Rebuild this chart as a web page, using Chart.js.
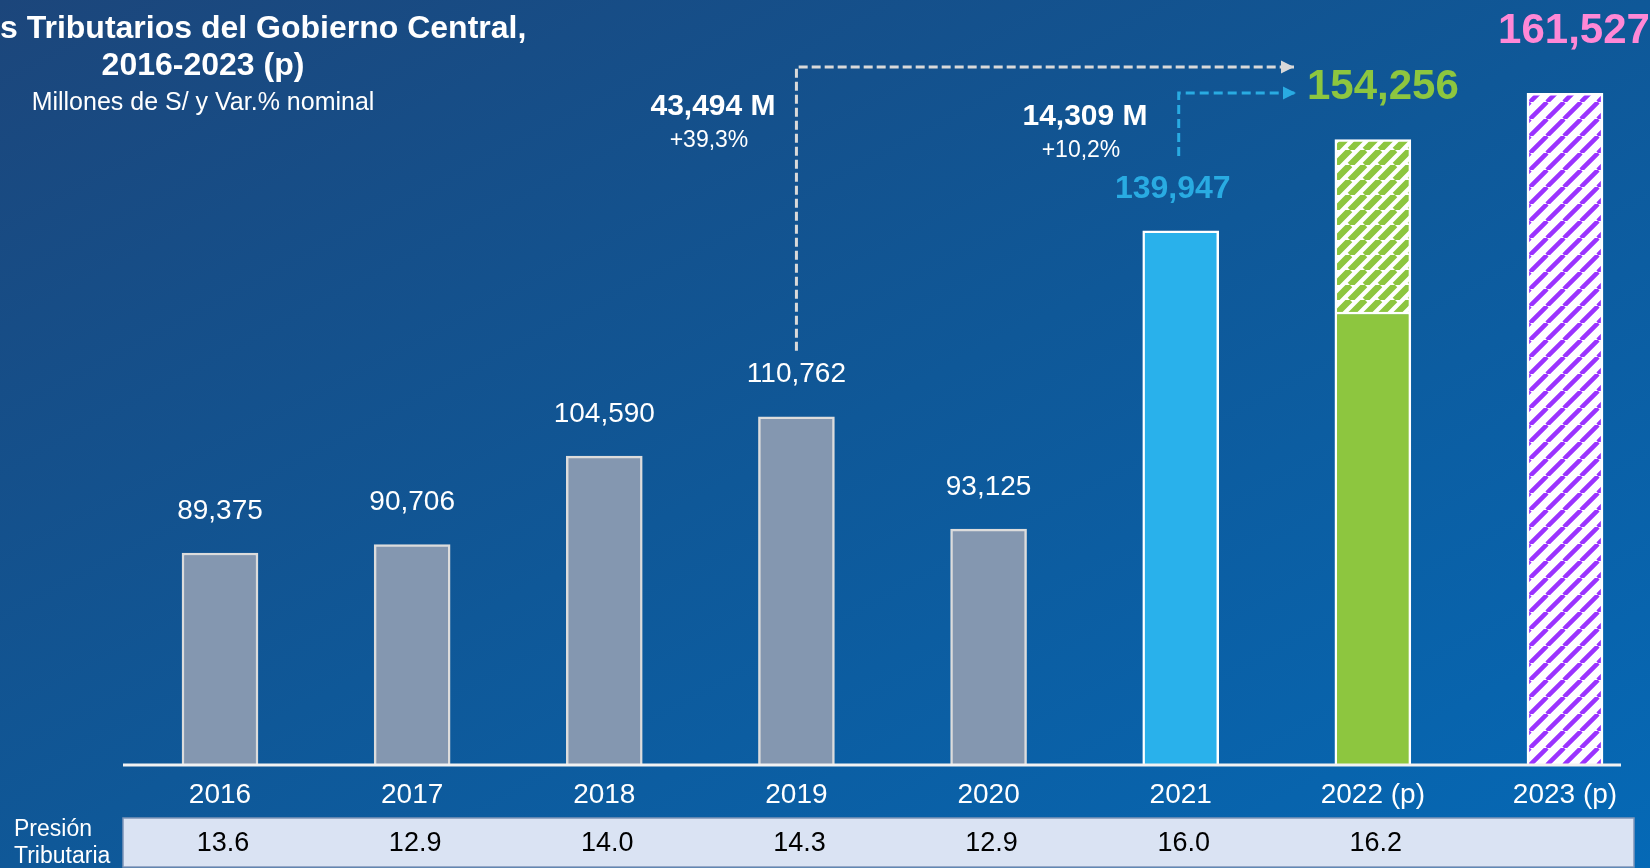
<!DOCTYPE html>
<html><head><meta charset="utf-8">
<script src="https://cdn.jsdelivr.net/npm/chart.js@4.4.0/dist/chart.umd.min.js"></script>
<style>
html,body{margin:0;padding:0;width:1650px;height:868px;overflow:hidden;}
body{background:linear-gradient(to bottom right,#1C467B 0%,#0F5898 50%,#0569B6 100%);}
canvas{display:block;}
</style></head><body>
<canvas id="c" width="1650" height="868"></canvas>
<script>
// ---- data ----
const years = ['2016','2017','2018','2019','2020','2021','2022 (p)','2023 (p)'];
const ingresos = [89375, 90706, 104590, 110762, 93125, 139947, 154256, 161527];
const presionTributaria = [13.6, 12.9, 14.0, 14.3, 12.9, 16.0, 16.2, null];
const solidPart2022 = 127200; // estimated height of the solid (non-hatched) part of the 2022 bar

const solidSeries = ingresos.map((v, i) => i < 6 ? v : (i === 6 ? solidPart2022 : null));
const hatchedSeries = ingresos.map((v, i) => i === 6 ? v - solidPart2022 : (i === 7 ? v : null));

const FONT = '"Liberation Sans", Arial, sans-serif';
const canvas = document.getElementById('c');
const ctx = canvas.getContext('2d');

function makeHatch(color, size, lw) {
  const c = document.createElement('canvas');
  c.width = size; c.height = size;
  const x = c.getContext('2d');
  x.fillStyle = '#FFFFFF';
  x.fillRect(0, 0, size, size);
  x.strokeStyle = color;
  x.lineWidth = lw;
  x.beginPath();
  for (let k = -1; k <= 1; k++) { x.moveTo(k * size, size); x.lineTo(k * size + size, 0); }
  x.stroke();
  return ctx.createPattern(c, 'repeat');
}
const greenHatch = makeHatch('#8DC63F', 15, 6.5);
const purpleHatch = makeHatch('#9B33FF', 17, 4.5);

const solidColors = ['#8497B0','#8497B0','#8497B0','#8497B0','#8497B0','#29B1EB','#8DC63F', 'rgba(0,0,0,0)'];
const solidBorders = ['#DCDCDC','#DCDCDC','#DCDCDC','#DCDCDC','#DCDCDC','#FFFFFF','#FFFFFF','#FFFFFF'];
const hatchColors = [null,null,null,null,null,null,greenHatch,purpleHatch];

const fmt = v => v.toLocaleString('en-US');

function arrow(c, pts, color, dash) {
  c.save();
  c.strokeStyle = color; c.fillStyle = color;
  c.lineWidth = 3; c.setLineDash(dash);
  c.beginPath();
  c.moveTo(pts[0][0], pts[0][1]);
  for (let i = 1; i < pts.length; i++) c.lineTo(pts[i][0], pts[i][1]);
  const last = pts[pts.length - 1];
  c.lineTo(last[0] - 12, last[1]);
  c.stroke();
  c.setLineDash([]);
  c.beginPath();
  c.moveTo(last[0], last[1]);
  c.lineTo(last[0] - 13, last[1] - 6.5);
  c.lineTo(last[0] - 13, last[1] + 6.5);
  c.closePath();
  c.fill();
  c.restore();
}

function text(c, s, x, y, font, color, align) {
  c.font = font; c.fillStyle = color; c.textAlign = align || 'center'; c.textBaseline = 'middle';
  c.fillText(s, x, y);
}

const decor = {
  id: 'decor',
  afterDraw(chart) {
    const c = chart.ctx;
    const m0 = chart.getDatasetMeta(0).data;
    const m1 = chart.getDatasetMeta(1).data;
    const area = chart.chartArea;
    c.save();
    // axis line
    c.strokeStyle = '#F2F2F2'; c.lineWidth = 3;
    c.beginPath(); c.moveTo(123, area.bottom + 0.5); c.lineTo(1621, area.bottom + 0.5); c.stroke();

    // titles
    text(c, 's Tributarios del Gobierno Central,', 0, 29.5, 'bold 32px ' + FONT, '#FFFFFF', 'left');
    text(c, '2016-2023 (p)', 203, 66, 'bold 32px ' + FONT, '#FFFFFF');
    text(c, 'Millones de S/ y Var.% nominal', 203, 103, '25px ' + FONT, '#FFFFFF');

    // value labels
    for (let i = 0; i < 5; i++) {
      text(c, fmt(ingresos[i]), m0[i].x, m0[i].y - 42, '28px ' + FONT, '#FFFFFF');
    }
    text(c, fmt(ingresos[5]), m0[5].x - 8, m0[5].y - 42, 'bold 32px ' + FONT, '#29ABE2');
    text(c, fmt(ingresos[6]), m1[6].x + 10, m1[6].y - 52, 'bold 42px ' + FONT, '#8DC63F');
    text(c, fmt(ingresos[7]), m1[7].x + 9, m1[7].y - 62, 'bold 42px ' + FONT, '#FF88D6');

    // arrows
    const arrowStart = Math.min(372, m0[3].y - 42 - 24);
    arrow(c, [[m0[3].x, arrowStart], [m0[3].x, 67], [1294, 67]], '#D9D9D9', [9, 4]);
    arrow(c, [[m0[5].x - 2, 156], [m0[5].x - 2, 93], [1296, 93]], '#29ABE2', [9, 5]);

    const d1 = ingresos[6] - ingresos[3];
    const p1 = (d1 / ingresos[3] * 100).toFixed(1).replace('.', ',');
    const d2 = ingresos[6] - ingresos[5];
    const p2 = (d2 / ingresos[5] * 100).toFixed(1).replace('.', ',');
    text(c, fmt(d1) + ' M', 713, 107, 'bold 30px ' + FONT, '#FFFFFF');
    text(c, '+' + p1 + '%', 709, 141, '23px ' + FONT, '#FFFFFF');
    text(c, fmt(d2) + ' M', 1085, 117, 'bold 30px ' + FONT, '#FFFFFF');
    text(c, '+' + p2 + '%', 1081, 151, '23px ' + FONT, '#FFFFFF');

    // table
    c.fillStyle = '#DAE3F3';
    c.fillRect(123, 818, 1511, 49);
    c.strokeStyle = '#7F95B8'; c.lineWidth = 1.5;
    c.strokeRect(123, 818, 1511, 49);
    const xs = chart.scales.x;
    presionTributaria.forEach((v, i) => {
      if (v === null) return;
      text(c, v.toFixed(1), xs.getPixelForValue(i) + 3, 844, '27px ' + FONT, '#000000');
    });
    text(c, 'Presión', 14, 830, '23px ' + FONT, '#FFFFFF', 'left');
    text(c, 'Tributaria', 14, 857, '23px ' + FONT, '#FFFFFF', 'left');
    c.restore();
  }
};

const barClip = { left: false, right: false, top: false, bottom: 0 };

new Chart(ctx, {
  type: 'bar',
  data: {
    labels: years,
    datasets: [
      { label: 'Ingresos', data: solidSeries, backgroundColor: solidColors, borderColor: solidBorders,
        borderWidth: 2.5, barThickness: 76, clip: barClip, stack: 's' },
      { label: 'Ingresos (hatched)', data: hatchedSeries, backgroundColor: hatchColors, borderColor: '#FFFFFF',
        borderWidth: 2.5, barThickness: 76, clip: barClip, stack: 's' }
    ]
  },
  options: {
    responsive: false,
    animation: false,
    devicePixelRatio: 1,
    layout: { padding: { left: 220, right: 85, top: 10, bottom: 42 } },
    plugins: { legend: { display: false }, tooltip: { enabled: false }, title: { display: false } },
    scales: {
      x: {
        stacked: true, offset: false,
        grid: { display: false, drawTicks: false },
        border: { display: false },
        ticks: { color: '#FFFFFF', font: { family: FONT, size: 28 }, padding: 14, autoSkip: false, maxRotation: 0 }
      },
      y: {
        stacked: true, display: false, min: 56200, max: 174600
      }
    }
  },
  plugins: [decor]
});
</script>
</body></html>
